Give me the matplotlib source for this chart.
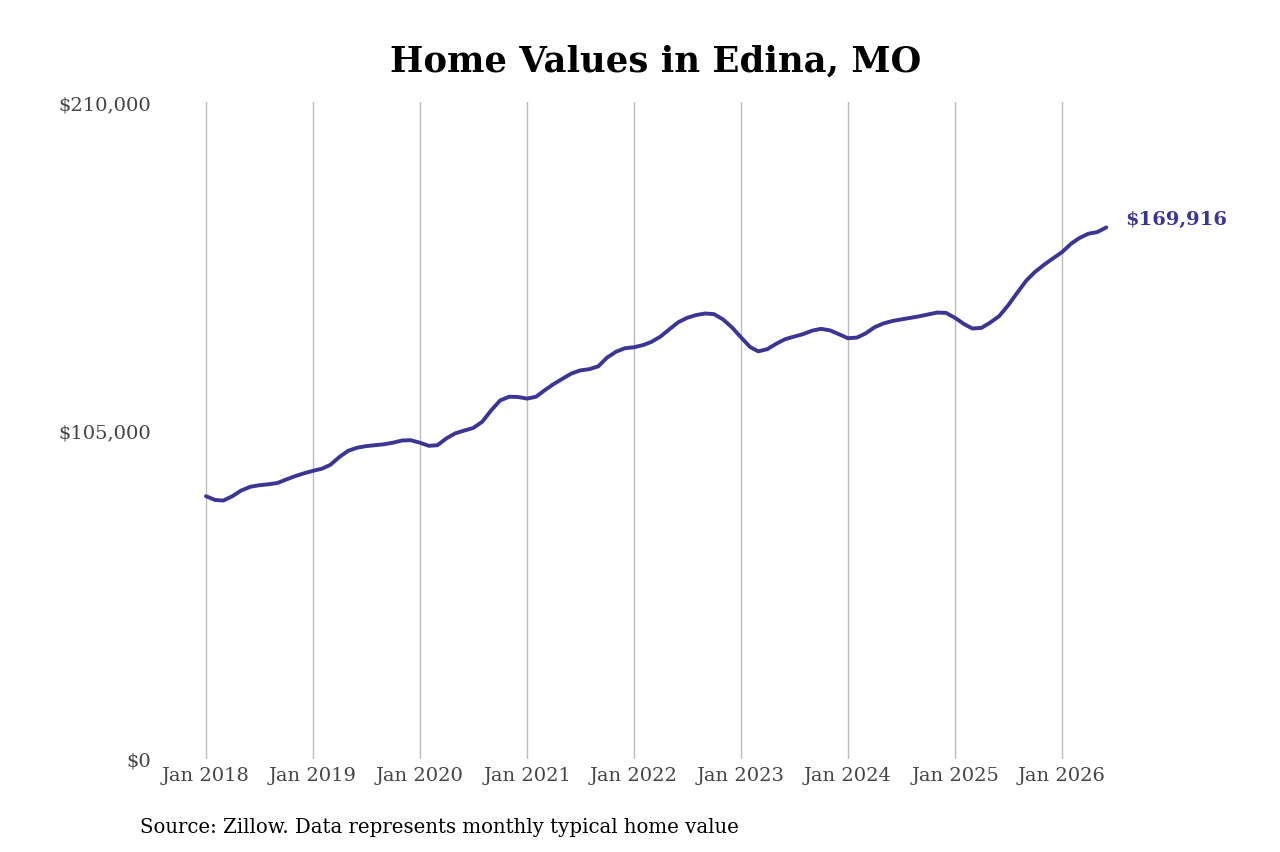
import numpy as np
import pandas as pd
import matplotlib
matplotlib.use("Agg")
import matplotlib.pyplot as plt
import matplotlib.dates as mdates
from matplotlib.ticker import FuncFormatter

# monthly typical home value, Jan 2018 .. Jun 2026
values_2018 = [84000, 82800, 82600, 84000, 85800, 87000, 87500, 87800, 88200, 89300, 90400, 91300]
values_2019 = [92100, 92800, 94000, 96500, 98500, 99500, 100000, 100300, 100600, 101100, 101800, 101900]
values_2020 = [101100, 100100, 100300, 102500, 104100, 105000, 105800, 107800, 111500, 114600, 115800, 115700]
values_2021 = [115200, 115800, 117800, 119800, 121500, 123200, 124200, 124600, 125500, 128300, 130200, 131300]
values_2022 = [131600, 132300, 133300, 135000, 137300, 139600, 141000, 141900, 142400, 142200, 140500, 138000]
values_2023 = [134800, 131700, 130300, 131000, 132700, 134200, 135000, 135800, 136900, 137500, 137000, 135800]
values_2024 = [134500, 134700, 136000, 138000, 139200, 140000, 140500, 141000, 141500, 142100, 142700, 142600]
values_2025 = [141000, 139000, 137600, 137800, 139500, 141600, 145000, 149000, 152900, 155700, 158000, 160000]
values_2026 = [162000, 164700, 166500, 167900, 168400, 169916]

values = (values_2018 + values_2019 + values_2020 + values_2021 + values_2022
          + values_2023 + values_2024 + values_2025 + values_2026)
dates = pd.date_range("2018-01-01", periods=len(values), freq="MS")

y_ticks = [0, 105000, 210000]
tick_years = list(range(2018, 2027))

line_color = "#3b3593"

plt.rcParams["font.family"] = ["DejaVu Serif"]

fig = plt.figure(figsize=(12.8, 8.53), dpi=100)
ax = fig.add_axes([155 / 1280, (853 - 760) / 853, (1110 - 155) / 1280, 657 / 853])

ax.plot(dates, values, color=line_color, lw=2.8, solid_capstyle="round",
        solid_joinstyle="round", zorder=3)

ax.set_ylim(0, 210000)
ax.set_yticks(y_ticks)
ax.yaxis.set_major_formatter(FuncFormatter(lambda v, p: f"${v:,.0f}"))

px_per_day = 107 / 365.25
ax.set_xlim(dates[0] - pd.Timedelta(days=(206 - 155) / px_per_day),
            dates[0] + pd.Timedelta(days=(1110 - 206) / px_per_day))
ax.set_xticks([pd.Timestamp(f"{y}-01-01") for y in tick_years])
ax.xaxis.set_major_formatter(mdates.DateFormatter("Jan %Y"))

ax.grid(axis="x", color="#bbbbbb", lw=1)
ax.grid(axis="y", visible=False)
for s in ax.spines.values():
    s.set_visible(False)
ax.tick_params(axis="both", length=0, labelsize=14, labelcolor="#444444")
ax.tick_params(axis="x", pad=5)
ax.tick_params(axis="y", pad=3)

# end label
ax.annotate(f"${values[-1]:,}", xy=(dates[-1], values[-1]), xytext=(14, 6),
            textcoords="offset points", color=line_color, fontsize=14,
            fontweight="bold", va="center", ha="left")

fig.text(656 / 1280, 1 - 62 / 853, "Home Values in Edina, MO", ha="center", va="center",
         fontsize=25.5, fontweight="bold")
fig.text(140 / 1280, 1 - 828 / 853, "Source: Zillow. Data represents monthly typical home value",
         ha="left", va="center", fontsize=14.2)

fig.savefig("out.png", dpi=100)
